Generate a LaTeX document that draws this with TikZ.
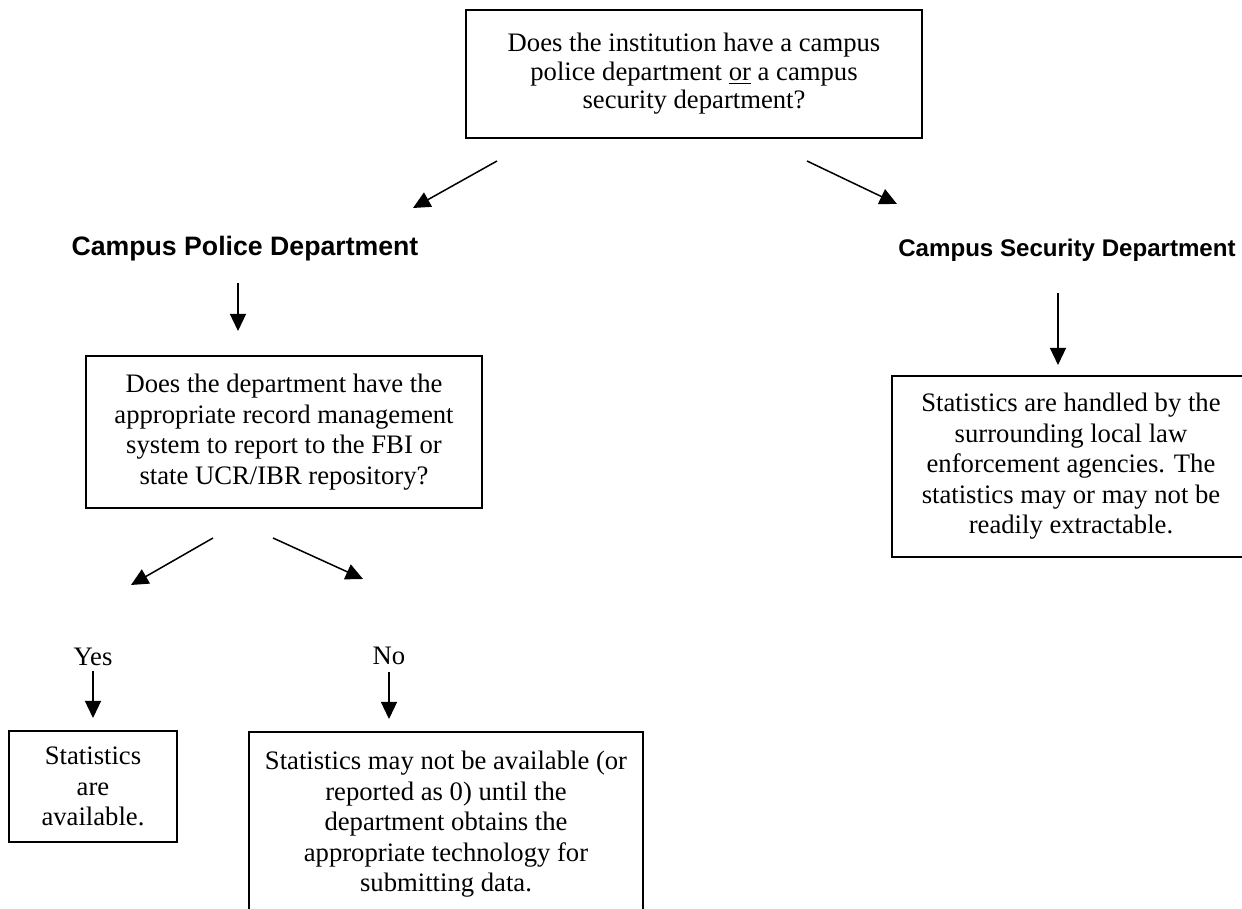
\documentclass[tikz,border=0pt]{standalone}
\usepackage{fontspec}
\setmainfont{Liberation Serif}
\setsansfont{Liberation Sans}
\usepackage{tikz}
\usetikzlibrary{arrows.meta}
\tikzset{
box/.style = {rectangle, draw=black, line width=0.8pt, align=center,
              minimum width = #1},
box/.default = 2cm, % width of the box
}
\tikzset{
head/.style = {font=\sffamily\bfseries\fontsize{12.4}{14.2}\selectfont}
}

\begin{document}
\begin{tikzpicture}[x=0.465pt, y=-0.465pt,
    font=\fontsize{12.4}{14.2}\selectfont,
    >={Triangle[length=8pt, width=7.5pt]}, line width=0.7pt]
    \useasboundingbox (0,0) rectangle (1242,909);

    \node[box=212pt, minimum height=59.5pt] (question) at (694,74)
        {Does the institution have a campus\\[-1pt] police department \underline{or} a campus\\[-1pt] security department?};

    \node[head](police) at (245,249) {Campus Police Department};
    \node[head, font=\sffamily\bfseries\fontsize{11.2}{14}\selectfont](security) at (1067,250) {Campus Security Department};

    \node[box=184pt, minimum height=70.7pt] (records) at (284,432)
        {Does the department have the\\ appropriate record management\\ system to report to the FBI or\\ state UCR/IBR repository?};
    \node[box=166.5pt, minimum height=84.2pt] (handled) at (1071,466.5)
        {Statistics are handled by the\\ surrounding local law\\ enforcement agencies. The\\ statistics may or may not be\\ readily extractable.};

    \node(yes) at (93,657) {Yes};
    \node(no) at (389,656) {No};
    \node[box=78pt, minimum height=51.6pt] (available) at (93,786.5)
        {Statistics\\ are\\ available.};
    \node[box=183pt, anchor=north, inner xsep=0pt, inner ysep=9pt] (notavail) at (446,731)
        {\parbox[c][110pt][t]{183pt}{\centering Statistics may not be available (or\\ reported as 0) until the\\ department obtains the\\ appropriate technology for\\ submitting data.}};

    % free standing arrows
    \coordinate (qL) at (497,161);
    \coordinate (qLend) at (413,208);
    \coordinate (qR) at (807,161);
    \coordinate (qRend) at (897,204);
    \coordinate (pTop) at (238,283);
    \coordinate (pEnd) at (238,331);
    \coordinate (sTop) at (1058,293);
    \coordinate (sEnd) at (1058,365);
    \coordinate (rL) at (213,538);
    \coordinate (rLend) at (131,585);
    \coordinate (rR) at (273,538);
    \coordinate (rRend) at (363,579);
    \coordinate (yTop) at (93,671);
    \coordinate (yEnd) at (93,718);
    \coordinate (nTop) at (389,672);
    \coordinate (nEnd) at (389,719);

\draw[->] (qL) -- (qLend);
\draw[->] (qR) -- (qRend);
\draw[->] (pTop) -- (pEnd);
\draw[->] (sTop) -- (sEnd);
\draw[->] (rL) -- (rLend);
\draw[->] (rR) -- (rRend);
\draw[->] (yTop) -- (yEnd);
\draw[->] (nTop) -- (nEnd);
\end{tikzpicture}
\end{document}
